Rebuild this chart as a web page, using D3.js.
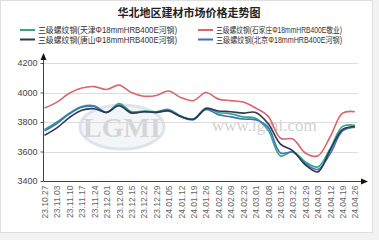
<!DOCTYPE html>
<html><head><meta charset="utf-8">
<script src="https://cdn.jsdelivr.net/npm/d3@7"></script>
<style>body{margin:0;background:#f2f2f2;}svg{display:block;font-family:"Liberation Sans",Arial,"Noto Sans CJK SC",sans-serif;}</style>
</head><body>
<script>
const labels = ["23.10.27","23.11.03","23.11.10","23.11.17","23.11.24","23.12.01","23.12.08","23.12.15","23.12.22","23.12.29","24.01.05","24.01.12","24.01.19","24.01.26","24.02.02","24.02.09","24.02.23","24.03.01","24.03.08","24.03.15","24.03.22","24.03.29","24.04.03","24.04.12","24.04.19","24.04.26"];
const seriesNames = ["三级螺纹钢(天津Φ18mmHRB400E河钢)","三级螺纹钢(石家庄Φ18mmHRB400E敬业)","三级螺纹钢(唐山Φ18mmHRB400E河钢)","三级螺纹钢(北京Φ18mmHRB400E河钢)"];
const tianjin = [3750,3800,3860,3905,3910,3865,3925,3870,3875,3870,3885,3840,3820,3895,3865,3855,3835,3825,3745,3570,3600,3530,3495,3620,3770,3778];
const shijiazhuang = [3895,3935,3995,4030,4040,4020,4050,4000,3975,3980,4010,3965,3945,4000,3955,3945,3935,3895,3840,3690,3685,3590,3570,3700,3860,3870];
const tangshan = [3710,3760,3830,3880,3890,3865,3910,3860,3870,3865,3875,3835,3820,3890,3875,3870,3860,3865,3790,3650,3605,3510,3462,3610,3750,3770];
const beijing = [3740,3790,3855,3900,3905,3865,3915,3865,3870,3865,3880,3835,3815,3885,3850,3835,3820,3815,3765,3590,3595,3520,3478,3585,3740,3765];
const yTicks = [3400,3600,3800,4000,4200];
const colors = ["#33a98a","#d9666c","#2e3a4a","#3f6fbf"];
const series = [tianjin, shijiazhuang, tangshan, beijing];

const W=379,H=240;
const svg = d3.select("body").append("svg").attr("width",W).attr("height",H);
svg.append("rect").attr("x",0.5).attr("y",0.5).attr("width",372).attr("height",232).attr("fill","#fff").attr("stroke","#dedede");

const x = d3.scalePoint().domain(labels).range([44.5,355]);
const y = d3.scaleLinear().domain([3400,4200]).range([181,63]);

// title
svg.append("text").attr("x",189).attr("y",17).attr("text-anchor","middle").attr("font-size",11).attr("font-weight","bold").attr("fill","#222").text("华北地区建材市场价格走势图");

// legend
const legPos = [[20,33,139],[198,33,126],[20,42.5,139],[198,42.5,126]];
seriesNames.forEach((n,i)=>{
  const [lx,ly,tl]=legPos[i];
  svg.append("line").attr("x1",lx).attr("x2",lx+15).attr("y1",ly-3).attr("y2",ly-3).attr("stroke",colors[i]).attr("stroke-width",2);
  svg.append("text").attr("x",lx+18).attr("y",ly).attr("font-size",8.5).attr("fill","#333").attr("textLength",tl).attr("lengthAdjust","spacingAndGlyphs").text(n);
});

// watermark
const wm = svg.append("g").attr("opacity",0.35);
wm.append("ellipse").attr("cx",122).attr("cy",127).attr("rx",42).attr("ry",22).attr("fill","#dfe6f0").attr("stroke","#9fb3cf").attr("stroke-width",3);
wm.append("text").attr("x",122).attr("y",137).attr("text-anchor","middle").attr("font-size",28).attr("font-weight","bold").attr("fill","#8a8a8a").attr("font-family","Liberation Serif,serif").text("LGMI");
svg.append("text").attr("x",212).attr("y",131).attr("font-size",17).attr("fill","#d2d2d2").attr("font-family","Liberation Serif,serif").text("www.lgmi.com");

// grid
svg.append("g").selectAll("line").data(yTicks.slice(1)).join("line")
  .attr("x1",44).attr("x2",358).attr("y1",d=>Math.round(y(d))+0.5).attr("y2",d=>Math.round(y(d))+0.5)
  .attr("stroke","#dcdcdc");

// y axis
const ya = svg.append("g").attr("transform","translate(43.5,0)").call(d3.axisLeft(y).tickValues(yTicks).tickSize(3).tickFormat(d3.format("d")));
ya.select(".domain").remove();
ya.selectAll("text").attr("font-size",9).attr("fill","#444").attr("font-family","Liberation Sans,Arial,sans-serif");
ya.selectAll("line").attr("stroke","#555");
svg.append("line").attr("x1",43.5).attr("x2",43.5).attr("y1",181).attr("y2",58).attr("stroke","#444");
svg.append("path").attr("d","M43.5,53 L40.5,60 L46.5,60 Z").attr("fill","#111");

// x axis
const xa = svg.append("g").attr("transform","translate(0,181.5)").call(d3.axisBottom(x).tickSize(0));
xa.select(".domain").remove();
xa.selectAll("text").attr("font-size",8.5).attr("fill","#666").attr("font-family","Liberation Sans,Arial,sans-serif")
  .attr("text-anchor","end").attr("transform","rotate(-90)").attr("x",-4).attr("y",0).attr("dy","0.35em");
svg.append("line").attr("x1",43.5).attr("x2",362).attr("y1",181.5).attr("y2",181.5).attr("stroke","#444");
svg.append("path").attr("d","M368,181.5 L361,178.5 L361,184.5 Z").attr("fill","#111");

// lines
const line = d3.line().x((d,i)=>x(labels[i])).y(d=>y(d)).curve(d3.curveCatmullRom.alpha(0.5));
[1,0,3,2].forEach(i=>{
  svg.append("path").attr("d",line(series[i])).attr("fill","none").attr("stroke",colors[i]).attr("stroke-width",1.6);
});
</script>
</body></html>
